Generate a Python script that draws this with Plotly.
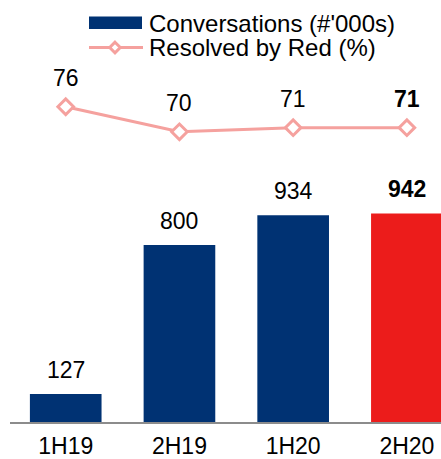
import plotly.graph_objects as go

categories = ["1H19", "2H19", "1H20", "2H20"]
conversations = [127, 800, 934, 942]
resolved_pct = [76, 70, 71, 71]
series_names = ["Conversations (#'000s)", "Resolved by Red (%)"]

NAVY = "#003273"
RED = "#EC1C1B"
PINK = "#F5A19E"
FONT = "Liberation Sans, Arial, sans-serif"

W, H = 441, 459
BASE = 421.7                # baseline of bars, px from top
ML, MR, MT = 10, 0, 0
MB = H - BASE
PW, PH = W - ML - MR, H - MT - MB

bar_colors = [NAVY] * (len(categories) - 1) + [RED]

fig = go.Figure()
fig.add_trace(go.Bar(
    x=categories, y=conversations, name=series_names[0],
    marker=dict(color=bar_colors, line=dict(width=0)),
    width=0.63, yaxis="y", showlegend=False, hoverinfo="skip",
))
fig.add_trace(go.Scatter(
    x=categories, y=resolved_pct, name=series_names[1], mode="lines+markers",
    line=dict(color=PINK, width=3),
    marker=dict(symbol="diamond", size=12, color="white", line=dict(width=3, color=PINK)),
    yaxis="y2", showlegend=False, hoverinfo="skip", cliponaxis=False,
))

annotations = []
last = len(categories) - 1
for i, (c, v) in enumerate(zip(categories, conversations)):
    t = f"<b>{v}</b>" if i == last else str(v)
    annotations.append(dict(x=c, y=v, xref="x", yref="y", text=t, showarrow=False,
                            yanchor="middle", yshift=24, font=dict(size=23, color="black", family=FONT)))
for i, (c, v) in enumerate(zip(categories, resolved_pct)):
    t = f"<b>{v}</b>" if i == last else str(v)
    annotations.append(dict(x=c, y=v, xref="x", yref="y2", text=t, showarrow=False,
                            yanchor="middle", yshift=29, font=dict(size=23, color="black", family=FONT)))

def px(xr):
    return (xr - ML) / PW

def py(yr):
    return (BASE - yr) / PH

# manual legend
shapes = [
    dict(type="rect", xref="paper", yref="paper", x0=px(89), x1=px(142), y0=py(29), y1=py(16.5),
         fillcolor=NAVY, line=dict(width=0)),
    dict(type="line", xref="paper", yref="paper", x0=px(89), x1=px(143), y0=py(47.5), y1=py(47.5),
         line=dict(color=PINK, width=3)),
]
cx, cy, r = 115, 47.5, 5.3
path = (f"M {px(cx)},{py(cy - r)} L {px(cx + r)},{py(cy)} L {px(cx)},{py(cy + r)} "
        f"L {px(cx - r)},{py(cy)} Z")
shapes.append(dict(type="path", xref="paper", yref="paper", path=path,
                   fillcolor="white", line=dict(color=PINK, width=3)))
for name, ypix in zip(series_names, [23, 47.5]):
    annotations.append(dict(x=px(147), y=py(ypix), xref="paper", yref="paper", text=name,
                            showarrow=False, xanchor="left", yanchor="middle",
                            font=dict(size=24, color="black", family=FONT)))

bar_px_per_unit = 0.2212
line_px_per_unit = 4.17
y2_low = 76 - (BASE - 106.7) / line_px_per_unit

fig.update_layout(
    width=W, height=H,
    margin=dict(l=ML, r=MR, t=MT, b=MB, autoexpand=False),
    paper_bgcolor="white", plot_bgcolor="white",
    font=dict(family=FONT, size=23, color="black"),
    showlegend=False,
    xaxis=dict(range=[-0.49, 3.30], showgrid=False, zeroline=False, showline=True,
               linecolor="#8C8C8C", linewidth=2, ticks="", ticklabelstandoff=2,
               automargin=False,
               tickfont=dict(size=23, color="black", family=FONT), fixedrange=True),
    yaxis=dict(range=[0, PH / bar_px_per_unit], visible=False, showgrid=False, zeroline=False,
               automargin=False),
    yaxis2=dict(range=[y2_low, y2_low + PH / line_px_per_unit], overlaying="y", visible=False,
                showgrid=False, zeroline=False, automargin=False),
    annotations=annotations,
    shapes=shapes,
)

fig.write_html(
    "out.html",
    config={"displayModeBar": False, "staticPlot": True},
    post_script="document.body.style.margin='0';document.documentElement.style.overflow='hidden';",
)
